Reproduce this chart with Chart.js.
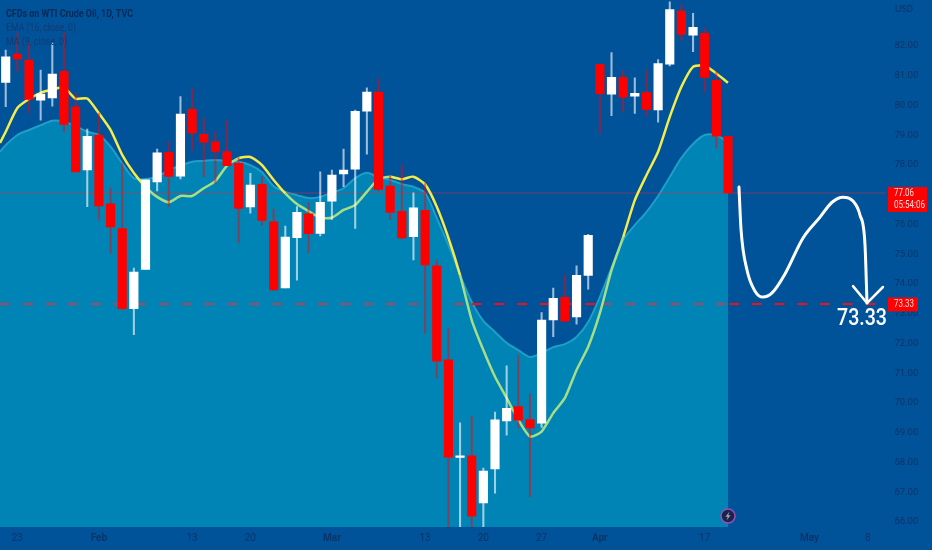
<!DOCTYPE html>
<html><head><meta charset="utf-8">
<style>html,body{margin:0;padding:0;background:#005299}canvas{display:block}</style>
<script src="https://cdn.jsdelivr.net/npm/chart.js@4"></script></head>
<body><canvas id="c" width="932" height="550"></canvas>
<script>
const opens=[80.78,81.73,81.53,80.18,80.26,81.15,79.96,77.84,79.01,76.70,75.86,73.17,74.49,77.43,78.43,77.63,79.87,79.03,78.78,78.45,78.06,76.59,77.35,76.09,73.87,75.56,76.36,75.70,76.79,77.70,77.86,79.81,80.45,77.29,76.44,75.59,76.48,74.61,71.45,68.17,68.22,66.64,67.78,69.40,69.88,69.44,69.32,72.79,73.55,72.89,74.29,81.39,80.38,80.95,80.32,80.44,79.85,81.39,83.18,82.37,82.43,80.85,78.97];
const closes=[81.64,81.57,80.21,80.39,81.06,79.37,77.77,78.97,76.63,75.92,73.17,74.40,77.50,78.41,77.62,79.71,79.08,78.77,78.46,77.98,76.54,77.33,76.14,73.80,75.58,76.41,75.69,76.75,77.66,77.83,79.81,80.45,77.18,76.41,75.55,76.56,74.64,71.41,68.18,68.21,66.19,67.71,69.43,69.82,69.42,69.16,72.79,73.52,72.75,74.29,75.64,80.40,80.95,80.28,80.41,79.87,81.41,83.23,82.39,82.63,80.95,78.97,77.06];
const highs=[81.87,82.44,82.10,81.19,82.10,82.47,80.42,79.21,79.75,77.23,78.07,74.54,77.50,78.54,78.78,80.30,80.58,79.58,79.12,79.51,78.24,77.72,77.61,76.52,75.95,76.60,76.73,77.77,77.83,78.54,79.85,80.60,80.91,77.63,78.00,77.07,77.38,74.81,72.52,69.33,69.54,67.81,69.69,71.25,71.59,70.30,73.04,73.86,74.30,74.61,75.67,81.39,81.78,81.19,80.93,81.19,81.55,83.49,83.41,83.10,82.61,81.14,78.97];
const lows=[79.96,81.14,79.75,79.51,79.98,79.12,77.76,76.60,76.15,75.04,73.13,72.30,74.49,77.13,76.60,77.53,78.50,77.61,77.39,77.98,75.38,76.38,75.98,73.80,73.87,74.13,75.05,75.62,76.17,77.27,75.87,78.37,77.13,76.17,75.51,74.81,72.35,70.84,65.5,65.5,65.5,65.5,66.97,68.92,69.16,66.85,69.18,72.23,72.75,72.65,73.83,79.07,79.66,79.79,79.74,79.65,79.44,81.33,82.20,81.81,80.46,78.58,77.06];
const maLine=[79.12,79.92,80.22,80.43,80.54,80.61,80.23,80.24,79.74,79.18,78.34,77.73,77.27,76.93,76.75,76.96,76.96,77.22,77.46,77.98,78.23,78.27,78.00,77.50,77.05,76.69,76.45,76.23,76.23,76.49,76.66,77.10,77.53,77.61,77.52,77.61,77.35,76.60,75.55,74.30,72.79,71.78,70.88,70.17,69.43,68.87,69.04,69.66,70.17,71.11,71.89,73.02,74.47,75.58,76.82,77.66,78.45,79.62,80.63,81.30,81.34,81.08,80.77];
const emaLine=[78.67,79.01,79.18,79.34,79.49,79.46,79.31,79.12,79.01,78.62,78.06,77.56,77.53,77.61,77.83,77.98,78.11,78.14,78.17,78.14,78.11,78.00,77.76,77.29,77.10,76.99,76.89,76.93,77.07,77.22,77.56,77.74,77.59,77.50,77.36,77.27,77.06,76.22,75.31,74.30,73.40,72.76,72.39,72.02,71.78,71.55,71.68,71.88,71.98,72.22,72.72,73.56,74.54,75.48,75.98,76.42,76.96,77.60,78.24,78.71,79.01,79.00,78.77];
const maStart=78.74, emaStart=78.45;
const curveX=[62.94,63.12,63.63,64.32,65.0,65.78,66.89,68.44,69.9,70.93,71.87,72.73,73.33,73.76,73.93];
const curveY=[77.26,75.82,74.47,73.76,73.56,73.70,74.34,75.55,76.25,76.75,76.92,76.79,76.32,75.31,73.36];
const arrowX=[72.73,73.93,75.3];
const arrowY=[73.93,73.36,73.90];
const xTickPos=[1,8,16,21,28,36,41,46,51,60,69,74];
const xTickText=['23','Feb','13','20','Mar','13','20','27','Apr','17','May','8'];
const yTicks=[66,67,68,69,70,71,72,73,74,75,76,77,78,79,80,81,82];
const lastPrice=77.06, targetPrice=73.33;
const dashBreaks=[-0.49,40,51.2,62.1,75.4];
const xMin=-0.49,xMax=75.51,yMin=65.83,yMax=83.55;
const titleLines=['CFDs on WTI Crude Oil, 1D, TVC','EMA (16, close, 0)','MA (9, close, 0)'];
const countdown='05:54:06';

const idx=opens.map((_,i)=>i);
const isUp=i=>closes[i]>=opens[i];
const TXT='#0b3468';
const NARROW='Roboto,sans-serif';

const overlay={id:'overlay',afterDatasetsDraw(ch){
  const c=ch.ctx,y=ch.scales.y,x=ch.scales.x;
  c.save();
  c.textBaseline='middle';c.textAlign='left';
  c.fillStyle='#0a2a58';c.font='bold 10.5px '+NARROW;c.fillText(titleLines[0],6,14,127);
  c.fillStyle='#123a70';c.font='10.5px '+NARROW;c.fillText(titleLines[1],6,28,70);c.fillText(titleLines[2],6,42,61);
  c.fillStyle=TXT;c.font='9.5px '+NARROW;c.fillText('USD',895,10);
  const py=y.getPixelForValue(lastPrice),ty=y.getPixelForValue(targetPrice);
  c.fillStyle='#ff0000';c.fillRect(888,py-6,39,25);c.fillRect(888,ty-6.5,30,14);
  c.fillStyle='#ffd9d9';c.font='10px '+NARROW;c.textAlign='left';
  c.fillText(lastPrice.toFixed(2),894,py+0.5,20);c.fillText(countdown,894,py+12.5,31);
  c.fillText(targetPrice.toFixed(2),894,ty+0.5,20);
  c.fillStyle='#ffffff';c.font='500 23px '+NARROW;c.textAlign='center';
  c.fillText(targetPrice.toFixed(2),862,ty+15.5,50);
  const bx=x.getPixelForValue(62),by=516;
  c.beginPath();c.arc(bx,by,7,0,Math.PI*2);c.fillStyle='#1a2348';c.fill();
  c.lineWidth=1.5;c.strokeStyle='#9a4fb4';c.stroke();
  c.beginPath();c.moveTo(bx+1.5,by-4.5);c.lineTo(bx-2.5,by+0.8);c.lineTo(bx-0.2,by+0.8);c.lineTo(bx-1.5,by+4.5);c.lineTo(bx+2.5,by-0.8);c.lineTo(bx+0.2,by-0.8);c.closePath();
  c.fillStyle='#a9a4c4';c.fill();
  c.restore();
}};

new Chart(document.getElementById('c'),{
  type:'bar',
  plugins:[overlay],
  data:{datasets:[
    {type:'line',order:10,data:[{x:xMin,y:emaStart},...idx.map(i=>({x:i,y:emaLine[i]}))],
      fill:'start',backgroundColor:'#0083b5',borderColor:'#1f9fc8',borderWidth:2,pointRadius:0,tension:0.3},
    {type:'line',order:9,data:[{x:xMin,y:lastPrice},{x:xMax,y:lastPrice}],borderColor:'rgba(215,50,60,.5)',borderWidth:1,pointRadius:0},
    {type:'line',order:8,data:dashBreaks.map(v=>({x:v,y:targetPrice})),borderWidth:2,borderDash:[10,12.7],pointRadius:0,borderColor:'#c8404f',
      segment:{borderColor:c=>c.p0DataIndex%2?'#f0101c':'rgba(205,60,75,.85)'}},
    {type:'line',order:7,data:[{x:xMin,y:maStart},...idx.map(i=>({x:i,y:maLine[i]}))],borderWidth:2.5,pointRadius:0,tension:0.2,borderColor:'#f5ec4a',
      segment:{borderColor:c=>{const k=Math.max(0,Math.round(c.p0.parsed.x));return c.p0.parsed.y<=emaLine[k]?'#a6de86':'#f5ec4a';}}},
    {order:6,grouped:false,barThickness:1.4,data:idx.map(i=>({x:i,y:[lows[i],highs[i]]})),
      backgroundColor:idx.map(i=>isUp(i)?'rgba(255,255,255,.62)':'rgba(255,0,0,.48)'),borderWidth:0,borderSkipped:false},
    {order:5,grouped:false,barThickness:8.5,data:idx.map(i=>({x:i,y:[opens[i],closes[i]]})),
      backgroundColor:idx.map(i=>isUp(i)?'#ffffff':'#ff0000'),borderWidth:0,borderSkipped:false,minBarLength:1.5},
    {type:'line',order:2,data:curveX.map((v,i)=>({x:v,y:curveY[i]})),borderColor:'#ffffff',borderWidth:3,pointRadius:0,cubicInterpolationMode:'monotone',borderCapStyle:'round'},
    {type:'line',order:1,data:arrowX.map((v,i)=>({x:v,y:arrowY[i]})),borderColor:'#ffffff',borderWidth:2.5,pointRadius:0,borderCapStyle:'round',borderJoinStyle:'round'}
  ]},
  options:{
    responsive:false,animation:false,devicePixelRatio:1,
    layout:{padding:0},
    plugins:{legend:{display:false},tooltip:{enabled:false},title:{display:false}},
    scales:{
      x:{type:'linear',min:xMin,max:xMax,offset:false,grid:{display:false,drawTicks:false},border:{display:false},
        afterBuildTicks:s=>{s.ticks=xTickPos.map(v=>({value:v}));},
        afterFit:s=>{s.height=23;s.paddingLeft=0;s.paddingRight=0;},
        ticks:{autoSkip:false,maxRotation:0,padding:5,color:TXT,
          font:c=>{const v=c.tick?c.tick.value:null;return {family:NARROW,size:10,weight:/[A-Z]/.test(xTickText[xTickPos.indexOf(v)]||'')?'bold':'normal'};},
          callback:v=>xTickText[xTickPos.indexOf(v)]}},
      y:{position:'right',min:yMin,max:yMax,grid:{display:false,drawTicks:false},border:{display:false},
        afterBuildTicks:s=>{s.ticks=yTicks.map(v=>({value:v}));},
        afterFit:s=>{s.width=46.6;s.paddingTop=0;s.paddingBottom=0;},
        ticks:{autoSkip:false,padding:9,crossAlign:'near',color:TXT,font:{family:NARROW,size:9.5},callback:v=>Number(v).toFixed(2)}}
    }
  }
});
</script></body></html>
